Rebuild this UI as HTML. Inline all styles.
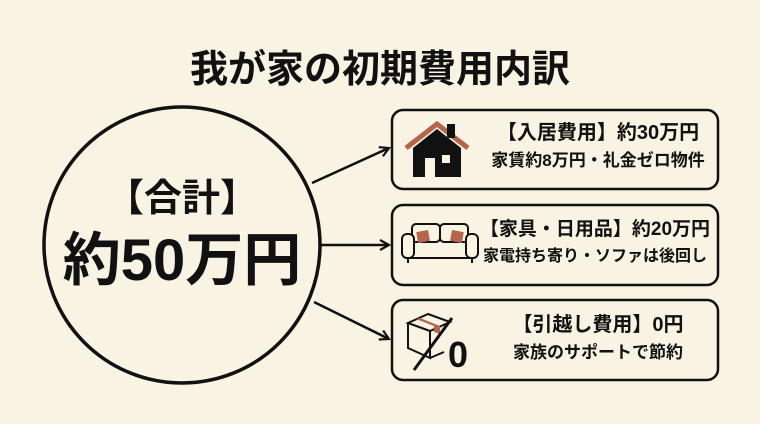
<!DOCTYPE html>
<html><head><meta charset="utf-8"><style>
body{margin:0;width:760px;height:424px;background:#f8f3e3;overflow:hidden;font-family:"Liberation Sans","Noto Sans CJK JP",sans-serif;color:#111}
.t{position:absolute;white-space:nowrap;font-weight:bold;text-align:center;line-height:1}
</style></head><body>
<svg width="760" height="424" style="position:absolute;left:0;top:0">
<defs><marker id="a" markerWidth="12" markerHeight="12" refX="10" refY="6" orient="auto" markerUnits="userSpaceOnUse"><path d="M1,1 L10,6 L1,11" fill="none" stroke="#111" stroke-width="2.2"/></marker></defs>
<circle cx="182" cy="245" r="138" fill="none" stroke="#111" stroke-width="3.5"/>
<line x1="312" y1="183" x2="389" y2="148" stroke="#111" stroke-width="2.5" marker-end="url(#a)"/>
<line x1="321" y1="245" x2="389" y2="245" stroke="#111" stroke-width="2.5" marker-end="url(#a)"/>
<line x1="314" y1="302" x2="389" y2="339" stroke="#111" stroke-width="2.5" marker-end="url(#a)"/>
<rect x="392" y="110" width="326" height="79" rx="11" fill="none" stroke="#111" stroke-width="2.5"/>
<rect x="392" y="205" width="326" height="80" rx="11" fill="none" stroke="#111" stroke-width="2.5"/>
<rect x="392" y="300" width="326" height="80" rx="11" fill="none" stroke="#111" stroke-width="2.5"/>
<path d="M406,148 L437,124 L468,148" fill="none" stroke="#b5654a" stroke-width="5"/>
<rect x="447" y="124" width="8" height="14" fill="#111"/>
<path d="M413,148 L437,129 L461,148 L461,177 L413,177 Z" fill="#111"/>
<rect x="425" y="158" width="10" height="19" fill="#f8f3e3"/>
<rect x="442" y="155" width="8" height="8" fill="#f8f3e3"/>
<g stroke="#111" stroke-width="2" fill="#f8f3e3">
<path d="M410,240 h60 v18 h-60z"/>
<rect x="412" y="224" width="28" height="18" rx="4"/><rect x="440" y="224" width="28" height="18" rx="4"/>
<rect x="402" y="234" width="12" height="24" rx="5"/><rect x="466" y="234" width="12" height="24" rx="5"/>
<line x1="408" y1="258" x2="408" y2="263"/><line x1="472" y1="258" x2="472" y2="263"/>
</g>
<rect x="417" y="231" width="12" height="11" fill="#b5654a" transform="rotate(-10 423 236)"/>
<rect x="451" y="231" width="12" height="11" fill="#b5654a" transform="rotate(10 457 236)"/>
<g stroke="#111" stroke-width="2" fill="none">
<path d="M408,323 L428,314 L450,322 L430,331 Z"/><path d="M408,323 v25 l22,10 v-27"/><path d="M430,358 l14,-6"/>
</g>
<path d="M420,318 l20,8 v8 l-6,-2 v-6 l-18,-7z" fill="#b5654a"/>
<line x1="414" y1="370" x2="452" y2="318" stroke="#111" stroke-width="3"/>
</svg>
<div class="t" style="left:0;width:760px;top:51px;font-size:38px">我が家の初期費用内訳</div>
<div class="t" style="left:82px;width:200px;top:180px;font-size:38px">【合計】</div>
<div class="t" style="left:42px;width:280px;top:232px;font-size:58px">約50万円</div>
<div class="t" style="left:448px;top:337px;font-size:36px">0</div>
<div class="t" style="left:478px;width:240px;top:123px;font-size:20px">【入居費用】約30万円</div>
<div class="t" style="left:478px;width:240px;top:152px;font-size:17px">家賃約8万円・礼金ゼロ物件</div>
<div class="t" style="left:475px;width:240px;top:220px;font-size:19px">【家具・日用品】約20万円</div>
<div class="t" style="left:475px;width:240px;top:249px;font-size:16px">家電持ち寄り・ソファは後回し</div>
<div class="t" style="left:478px;width:240px;top:315px;font-size:20px">【引越し費用】0円</div>
<div class="t" style="left:478px;width:240px;top:344px;font-size:17px">家族のサポートで節約</div>
</body></html>
